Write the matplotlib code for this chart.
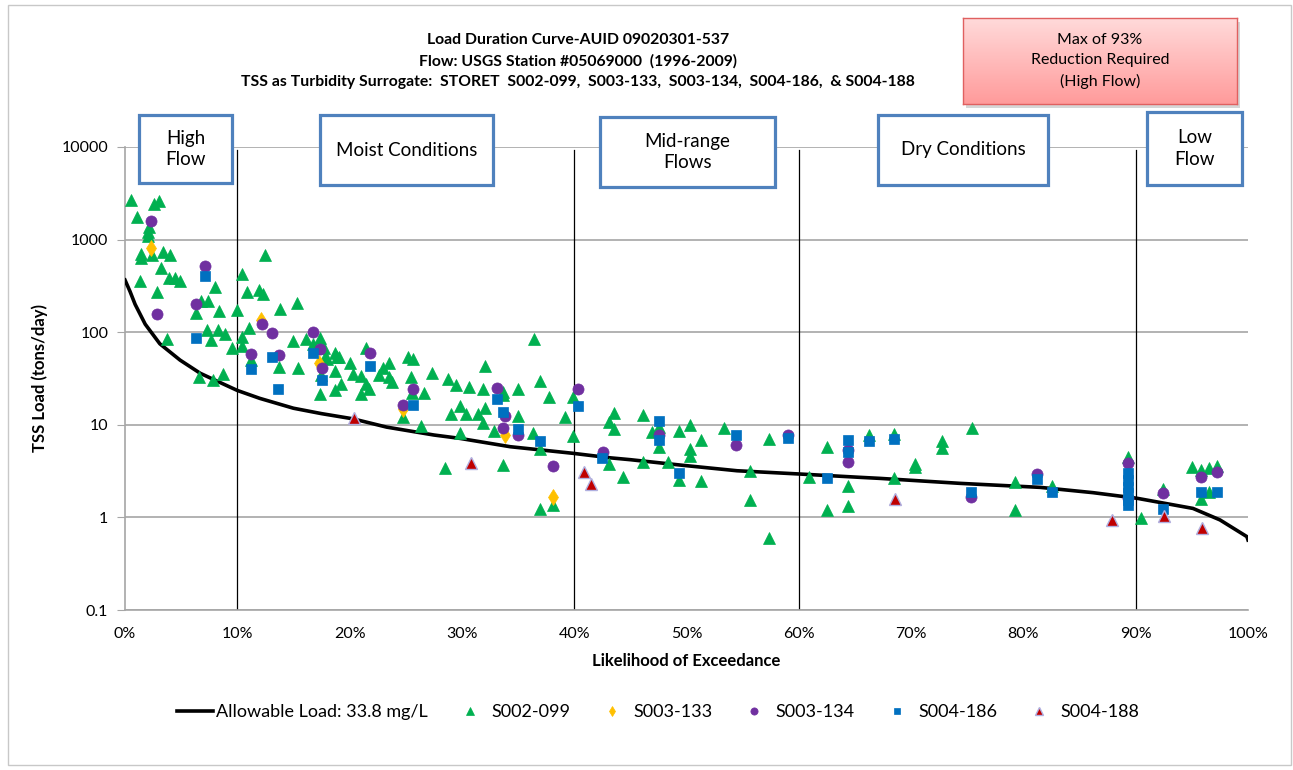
import numpy as np
import matplotlib
matplotlib.use('Agg')
import matplotlib.pyplot as plt
from matplotlib.patches import Rectangle

plt.rcParams['font.family'] = ['Lato', 'DejaVu Sans']

# allowable load curve (33.8 mg/L)
curve_pct = [0, 0.45, 0.9, 1.8, 3.1, 4.9, 6.7, 8.5, 10, 12, 15, 17.5, 20.3, 23.3, 27.5,
             29.8, 34.3, 39.9, 43.2, 45, 49.4, 54.5, 60.1, 65.4, 67.2, 74.4, 81.5, 86.2,
             90.1, 95.1, 97.5, 99.9, 100]
curve_load = [366, 275, 200, 122, 75, 50, 36, 28.5, 23.5, 19.3, 15.1, 13.2, 11.6, 9.44, 7.76,
              7.14, 5.80, 4.92, 4.40, 4.20, 3.68, 3.19, 2.94, 2.71, 2.64, 2.33, 2.11, 1.85,
              1.61, 1.25, 0.94, 0.62, 0.57]

s002_pct = [0.53, 1.10, 2.61, 3.05, 2.16, 2.07, 2.07, 1.40, 1.40, 2.43, 3.36, 4.01, 3.18, 1.34, 3.94,
            4.45, 4.90, 8.04, 2.82, 6.74, 7.39, 6.32, 8.37, 10.0, 3.71, 7.28, 8.28, 8.93, 7.68, 9.55,
            6.59, 7.81, 8.70,
            12.47, 10.45, 10.84, 11.91, 12.26, 15.34, 13.80, 11.07, 10.39, 10.39, 14.93, 11.19, 13.69,
            15.41, 16.12, 17.36, 16.71, 17.72, 17.81, 18.01, 18.70, 18.85, 19.03, 17.43, 18.67, 19.21,
            18.67, 17.36, 20.04, 20.33, 21.04, 21.04, 21.46, 21.46, 21.75, 22.64, 22.95, 23.54, 23.54,
            23.75, 25.23, 25.67, 25.47, 25.58, 26.65, 27.38, 24.78, 26.36, 28.79, 29.47, 30.66, 32.06,
            31.91, 29.83, 29.06, 30.37, 31.46, 32.08, 31.85, 29.83, 28.52, 33.63, 33.69, 35.02, 35.02,
            32.86, 33.63, 36.42, 36.95, 37.73, 36.36, 36.95, 39.15, 39.92, 39.92, 38.14, 36.95,
            43.57, 43.13, 43.57, 46.15, 46.90, 47.58, 47.58, 49.33, 50.31, 51.29, 50.31, 50.31, 53.34,
            43.13, 44.32, 46.15, 48.38, 49.33, 51.29, 55.65, 55.65, 57.35, 57.35,
            60.94, 62.54, 62.54, 64.41, 64.41, 66.22, 68.50, 70.37, 70.37, 72.72, 72.72, 75.40, 68.50,
            79.25, 79.25, 82.52, 89.34,
            90.45, 92.46, 95.04, 95.81, 96.56, 97.27, 96.56, 95.81]
s002_load = [2680, 1770, 2420, 2610, 1380, 1220, 1100, 694, 638, 682, 740, 682, 490, 357, 388,
             388, 357, 310, 274, 217, 217, 163, 169, 172, 84.5, 105, 106, 95, 82, 68,
             32.6, 30.5, 35.4,
             682, 422, 274, 286, 256, 205, 178, 112, 89, 71, 80.4, 50, 42.1,
             41.4, 83.8, 85.9, 74.6, 67, 54.4, 51.8, 59.2, 54.4, 53.6, 34.5, 38.4, 27.6,
             23.8, 21.5, 46.1, 35.4, 33.7, 21.5, 67, 27.6, 24.2, 34.5, 40.7, 46.1, 33.0,
             29.2, 53.6, 51.4, 33.0, 21.9, 22.2, 36, 12.0, 9.78, 31, 27.1, 25.8, 43.2,
             24.2, 16.0, 13.2, 13.2, 13.1, 15.1, 10.5, 8.09, 3.39, 22.8, 21.0, 24.2, 12.4,
             8.57, 3.68, 83.8, 29.9, 19.8, 8.09, 5.43, 12.1, 20.1, 7.57, 1.36, 1.22,
             13.3, 10.8, 8.94, 12.8, 8.43, 9.45, 5.71, 8.63, 9.95, 6.86, 5.43, 4.61, 9.17,
             3.78, 2.75, 4.0, 4.0, 2.54, 2.47, 3.17, 1.54, 6.97, 0.594,
             2.71, 5.71, 1.20, 2.2, 1.33, 7.76, 7.89, 3.78, 3.5, 6.73, 5.57, 9.17, 2.64,
             2.43, 1.20, 2.18, 4.52,
             0.977, 2.01, 3.48, 3.25, 3.39, 3.61, 1.87, 1.57]

s133_pct = [2.29, 12.14, 17.30, 24.78, 33.84, 38.14]
s133_load = [818, 136, 46.9, 14.7, 7.7, 1.67]

s134_pct = [2.29, 7.15, 6.32, 2.82, 12.2, 13.12, 11.19, 13.69, 16.71, 17.36, 17.54, 21.82, 25.67,
            24.78, 33.15, 33.86, 33.63, 35.02, 38.14, 40.34, 42.54, 47.58, 54.41, 59.07, 64.41,
            64.41, 75.33, 81.21, 89.34, 89.34, 92.46, 95.81, 97.27]
s134_load = [1600, 522, 200, 156, 122, 98.5, 57.7, 57.2, 101, 66.4, 41, 59.2, 24.2,
             16.5, 25.2, 12.4, 9.23, 7.7, 3.61, 24.5, 5.05, 7.76, 6.05, 7.76, 5.4,
             3.96, 1.67, 2.94, 3.84, 1.6, 1.85, 2.75, 3.12]

s186_pct = [7.15, 6.32, 11.19, 13.12, 13.65, 16.71, 17.54, 21.82, 25.67, 33.15, 33.63, 35.02, 36.95,
            40.34, 42.50, 47.58, 47.58, 49.33, 54.41, 59.07, 62.54, 64.41, 64.41, 66.22, 68.50,
            75.33, 81.21, 82.52, 89.34, 89.34, 89.34, 89.34, 89.34, 89.34, 92.46, 95.81, 97.27]
s186_load = [402, 87.3, 40.1, 54, 24.5, 59.2, 30.5, 43.5, 16.5, 18.8, 13.8, 9.08, 6.73,
             16.0, 4.35, 11.1, 6.86, 3.04, 7.76, 7.26, 2.64, 6.86, 5.05, 6.68, 7.08,
             1.90, 2.60, 1.87, 2.99, 2.54, 2.11, 1.82, 1.54, 1.35, 1.22, 1.87, 1.87]

s188_pct = [20.39, 30.78, 40.87, 41.52, 68.59, 87.92, 92.52, 95.93]
s188_load = [11.75, 3.84, 3.09, 2.28, 1.58, 0.937, 1.04, 0.762]

regions = ['High\nFlow', 'Moist Conditions', 'Mid-range\nFlows', 'Dry Conditions', 'Low\nFlow']
region_breaks = [10, 40, 60, 90]

W, H = 1293, 770
fig = plt.figure(figsize=(W / 100, H / 100), dpi=100)


def fbox(x0, y0, x1, y1):
    # pixel box -> figure fraction rect
    return [x0 / W, 1 - y1 / H, (x1 - x0) / W, (y1 - y0) / H]


# chart border
fig.add_artist(Rectangle((8 / W, 1 - 765 / H), 1283 / W, 760 / H, transform=fig.transFigure,
                         fill=False, ec='#c8c8c8', lw=1, zorder=0))

ax = fig.add_axes(fbox(125, 147, 1248, 610))
ax.set_yscale('log')
ax.set_xlim(0, 100)
ax.set_ylim(0.1, 10000)

ax.plot(curve_pct, curve_load, color='black', lw=2.6, zorder=3, label='Allowable Load: 33.8 mg/L')
ax.plot(s002_pct, s002_load, ls='none', marker='^', ms=8, color='#00B050', mec='#00B050', mew=0.5,
        zorder=4, label='S002-099')
ax.plot(s133_pct, s133_load, ls='none', marker='d', ms=8, color='#FFC000', mec='#FFC000', mew=0.5,
        zorder=5, label='S003-133')
ax.plot(s134_pct, s134_load, ls='none', marker='o', ms=8, color='#7030A0', mec='#7030A0', mew=0.5,
        zorder=6, label='S003-134')
ax.plot(s186_pct, s186_load, ls='none', marker='s', ms=7.2, color='#0070C0', mec='#0070C0', mew=0.5,
        zorder=7, label='S004-186')
ax.plot(s188_pct, s188_load, ls='none', marker='^', ms=8.5, color='#C00000', mec='#B0B0E0', mew=1,
        zorder=8, label='S004-188')

for b in region_breaks:
    ax.plot([b, b], [0.1, 9300], color='black', lw=0.9, zorder=2)

ax.set_yticks([0.1, 1, 10, 100, 1000, 10000])
ax.set_yticklabels(['0.1', '1', '10', '100', '1000', '10000'])
ax.yaxis.set_minor_locator(matplotlib.ticker.NullLocator())
ax.set_xticks(range(0, 101, 10))
ax.set_xticklabels([str(v) + '%' for v in range(0, 101, 10)])
ax.grid(axis='y', color='#a6a6a6', lw=1.2)
ax.set_axisbelow(True)
for s in ['top', 'right']:
    ax.spines[s].set_visible(False)
for s in ['left', 'bottom']:
    ax.spines[s].set_color('#a6a6a6')
    ax.spines[s].set_linewidth(1.2)
ax.tick_params(axis='y', length=6, color='#a6a6a6', labelsize=11.5, pad=6)
ax.tick_params(axis='x', length=0, labelsize=11.5, pad=12)

ax.set_ylabel('TSS Load (tons/day)', fontsize=12, fontweight='bold', labelpad=10)
ax.set_xlabel('Likelihood of Exceedance', fontsize=12, fontweight='bold', labelpad=9)

fig.text(578 / W, 1 - 40 / H, 'Load Duration Curve-AUID 09020301-537', ha='center', va='center',
         fontsize=11.3, fontweight='bold')
fig.text(578 / W, 1 - 61 / H, 'Flow: USGS Station #05069000  (1996-2009)', ha='center', va='center',
         fontsize=11.3, fontweight='bold')
fig.text(578 / W, 1 - 82 / H,
         'TSS as Turbidity Surrogate:  STORET  S002-099,  S003-133,  S003-134,  S004-186,  & S004-188',
         ha='center', va='center', fontsize=11.3, fontweight='bold')

# red note box with gradient and a soft shadow
fig.add_artist(Rectangle((966 / W, 1 - 108 / H), 274 / W, 86 / H, transform=fig.transFigure,
                         fc='#bbbbbb', ec='none', alpha=0.6, zorder=1))
bx = fig.add_axes(fbox(963, 18, 1237, 104))
bx.set_zorder(3)
grad = np.linspace(0, 1, 100).reshape(-1, 1)
cmap = matplotlib.colors.LinearSegmentedColormap.from_list('pinks', ['#FFDADA', '#FF9B9B'])
bx.imshow(grad, aspect='auto', cmap=cmap, extent=[0, 1, 0, 1])
bx.set_xticks([])
bx.set_yticks([])
for s in bx.spines.values():
    s.set_color('#E06060')
    s.set_linewidth(1)
bx.text(0.5, 0.5, 'Max of 93%\nReduction Required\n(High Flow)', ha='center', va='center',
        fontsize=11.5, linespacing=1.55, transform=bx.transAxes)

# flow regime boxes
boxes = [(139, 115, 232, 183), (320, 115, 493, 185), (600, 117, 775, 187),
         (878, 115, 1048, 185), (1147, 112, 1242, 185)]
for name, (x0, y0, x1, y1) in zip(regions, boxes):
    r = fbox(x0, y0, x1, y1)
    fig.add_artist(Rectangle((r[0], r[1]), r[2], r[3], transform=fig.transFigure,
                             fc='white', ec='#4F81BD', lw=2.3, zorder=10))
    fig.text(r[0] + r[2] / 2, r[1] + r[3] / 2, name, ha='center', va='center', fontsize=13.5,
             linespacing=1.3, zorder=11)

leg = fig.legend(loc='center', bbox_to_anchor=(658 / W, 1 - 712 / H), ncol=6, frameon=False,
                 fontsize=13, markerscale=0.65, handlelength=2.0, handletextpad=0.2,
                 columnspacing=1.3)

fig.savefig('out.png', dpi=100)
